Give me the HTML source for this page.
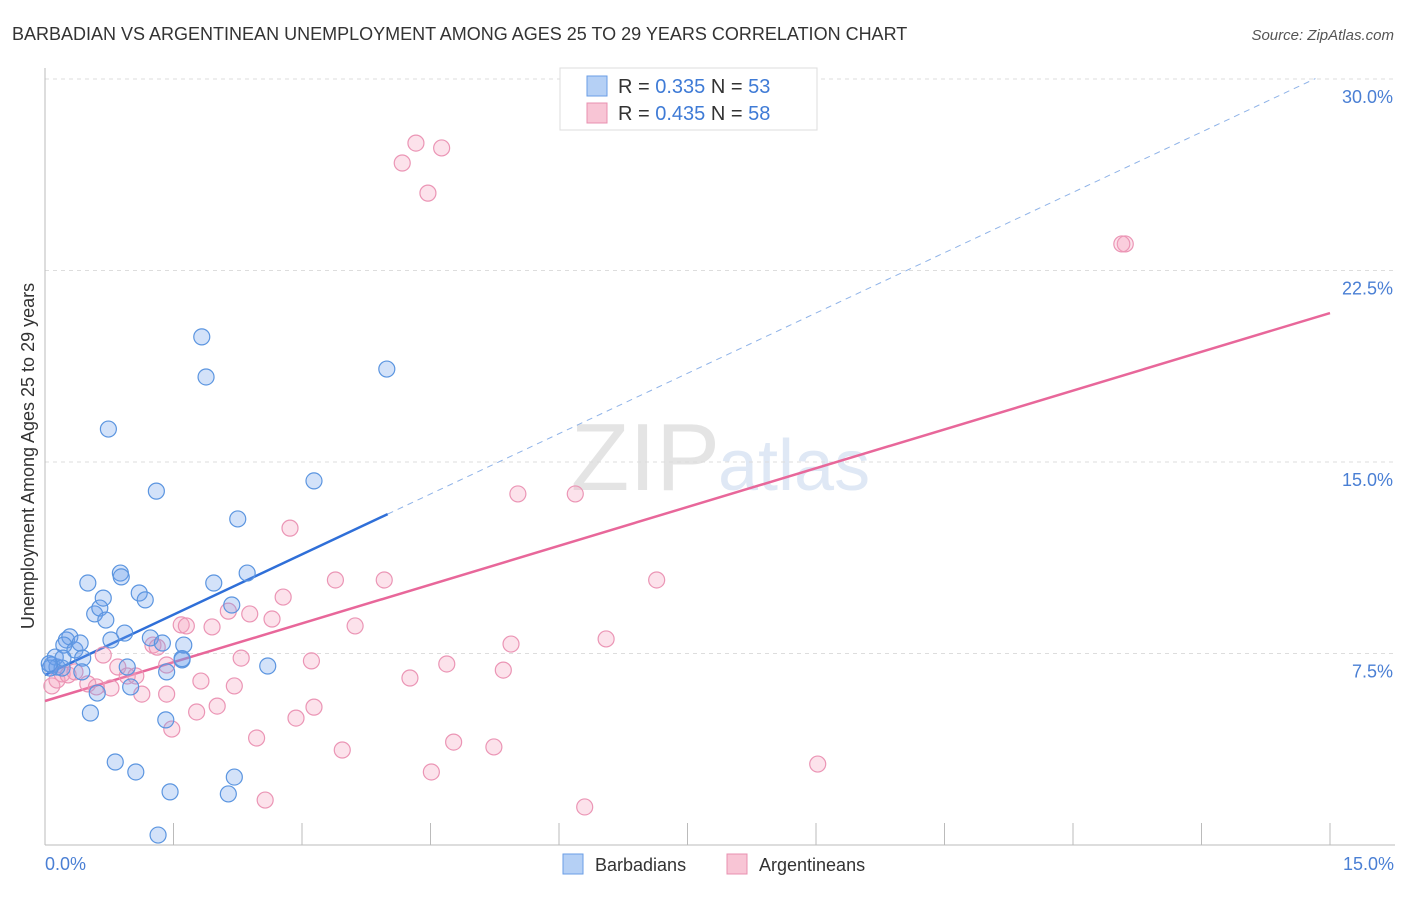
<!DOCTYPE html>
<html><head><meta charset="utf-8"><style>
body{margin:0;background:#fff;font-family:"Liberation Sans",sans-serif}
svg text{font-family:"Liberation Sans",sans-serif}
</style></head><body>
<svg id="chart" width="1406" height="892" xmlns="http://www.w3.org/2000/svg">
<text x="12" y="40" font-size="18" fill="#333">BARBADIAN VS ARGENTINEAN UNEMPLOYMENT AMONG AGES 25 TO 29 YEARS CORRELATION CHART</text>
<text x="1394" y="40" font-size="15" fill="#555" font-style="italic" text-anchor="end">Source: ZipAtlas.com</text>
<text x="720" y="490" font-size="96" fill="#e4e4e4" text-anchor="end" font-family="Liberation Serif">ZIP</text>
<text x="718" y="490" font-size="72" fill="#dfe8f5">atlas</text>
<g id="grid"></g>
<g id="axes"></g>
<g id="lines"></g>
<g id="pts"></g>
<text transform="translate(34,456) rotate(-90)" font-size="18" fill="#333" text-anchor="middle">Unemployment Among Ages 25 to 29 years</text>
<text x="45" y="870" font-size="18" fill="#4a7fd4">0.0%</text>
<text x="1394" y="870" font-size="18" fill="#4a7fd4" text-anchor="end">15.0%</text>
<g>
<rect x="560" y="68" width="257" height="62" fill="#fff" stroke="#ddd"/>
<rect x="587" y="76" width="20" height="20" fill="#b5d0f5" stroke="#6a9ee6"/>
<rect x="587" y="103" width="20" height="20" fill="#f8c5d5" stroke="#e890b0"/>
<text x="618" y="93" font-size="20" fill="#333">R = <tspan fill="#3f7bd6">0.335</tspan>   N = <tspan fill="#3f7bd6">53</tspan></text>
<text x="618" y="120" font-size="20" fill="#333">R = <tspan fill="#3f7bd6">0.435</tspan>   N = <tspan fill="#3f7bd6">58</tspan></text>
</g>
<g>
<rect x="563" y="854" width="20" height="20" fill="#b5d0f5" stroke="#6a9ee6"/>
<text x="595" y="871" font-size="18" fill="#333">Barbadians</text>
<rect x="727" y="854" width="20" height="20" fill="#f8c5d5" stroke="#e890b0"/>
<text x="759" y="871" font-size="18" fill="#333">Argentineans</text>
</g>
</svg>
<script>
const yTicks=[7.5,15,22.5,30];
const xTicks=[0,1.5,3,4.5,6,7.5,9,10.5,12,13.5,15];
const blueX=[0.08,0.14,0.12,0.20,0.25,0.29,0.22,0.35,0.41,0.44,0.43,0.50,0.58,0.64,0.68,0.71,0.77,0.93,0.88,0.89,1.10,1.17,0.74,1.30,1.83,1.88,1.97,2.18,2.25,2.36,1.23,1.37,1.60,1.62,1.42,2.60,3.14,3.99,0.53,0.61,0.96,1.00,1.41,0.82,1.06,1.46,2.14,2.21,1.32,0.06,0.21,1.60,0.05];
const blueY=[7.05,6.97,7.36,6.93,8.03,8.15,7.83,7.64,7.91,7.32,6.78,10.26,9.05,9.28,9.67,8.81,8.03,8.30,10.65,10.50,9.87,9.60,16.29,13.86,19.90,18.33,10.26,9.40,12.77,10.65,8.11,7.91,7.25,7.83,6.78,7.01,14.26,18.64,5.17,5.95,6.97,6.19,4.90,3.25,2.86,2.08,2.00,2.66,0.39,6.93,7.32,7.30,7.10];
const pinkX=[0.08,0.14,0.20,0.27,0.35,0.50,0.60,0.68,0.77,0.85,0.96,1.06,1.13,1.26,1.31,1.42,1.42,1.48,1.59,1.65,1.77,1.82,1.95,2.01,2.21,2.14,2.29,2.39,2.47,2.57,2.65,2.78,2.86,2.93,3.11,3.14,3.39,3.47,3.62,3.96,4.26,4.51,4.69,4.77,4.17,4.33,4.47,4.63,5.24,5.35,5.44,5.52,6.19,6.30,6.55,7.14,9.02,12.61,12.57];
const pinkY=[6.23,6.46,6.70,6.66,6.78,6.31,6.19,7.44,6.15,6.97,6.62,6.62,5.91,7.83,7.75,5.91,7.05,4.54,8.62,8.58,5.21,6.42,8.54,5.44,6.23,9.16,7.32,9.05,4.19,1.76,8.85,9.71,12.41,4.97,7.21,5.40,10.38,3.72,8.58,10.38,6.54,2.86,7.09,4.03,26.71,27.49,25.53,27.30,3.84,6.85,7.87,13.75,13.75,1.49,8.07,10.38,3.17,23.54,23.54];
const blueTrend=[6.66,1.575];
const pinkTrend=[5.64,1.013];
const X=v=>45+v/15*1285, Y=v=>845-v/7.5*191.5;
const NS="http://www.w3.org/2000/svg";
function mk(p,t,a){const e=document.createElementNS(NS,t);for(const k in a)e.setAttribute(k,a[k]);document.getElementById(p).appendChild(e);return e;}
yTicks.forEach(t=>{
 const l=mk('grid','line',{x1:45,x2:1395,y1:Y(t),y2:Y(t),stroke:'#ddd','stroke-dasharray':'4,4'});
 
 
 const tx=mk('grid','text',{x:1393,y:Y(t)+24,'font-size':18,fill:'#4a7fd4','text-anchor':'end'});
 tx.textContent=t.toFixed(1)+'%';
 
 
});
mk('axes','line',{x1:45,x2:45,y1:68,y2:845,stroke:'#bbb'});
mk('axes','line',{x1:45,x2:1395,y1:845,y2:845,stroke:'#bbb'});
xTicks.forEach(t=>{
 const l=mk('axes','line',{x1:X(t),x2:X(t),y1:823,y2:845,stroke:'#bbb'});
 
 
});
function trend(tr,x0,x1,col,dash,name){
 const l=mk('lines','line',{x1:X(x0),y1:Y(tr[0]+tr[1]*x0),x2:X(x1),y2:Y(tr[0]+tr[1]*x1),stroke:col,'stroke-width':dash?1:2.5});
 if(dash)l.setAttribute('stroke-dasharray','6,5');
 
 
}
trend(blueTrend,0,4.0,'#2f6fd8',false,'barbadians-trend-line');
trend(blueTrend,4.0,14.83,'#8fb3e8',true,'barbadians-trend-extension');
trend(pinkTrend,0,15,'#e8679a',false,'argentineans-trend-line');
function pts(xs,ys,fill,stroke,name){
 xs.forEach((x,i)=>{
  const c=mk('pts','circle',{cx:X(x),cy:Y(ys[i]),r:8,fill:fill,stroke:stroke,'stroke-width':1.2});
  
  
 });
}
pts(pinkX,pinkY,'rgba(245,160,190,0.3)','#eb95b5','argentinean-point');
pts(blueX,blueY,'rgba(110,160,235,0.3)','#5b95e0','barbadian-point');
</script>
</body></html>
